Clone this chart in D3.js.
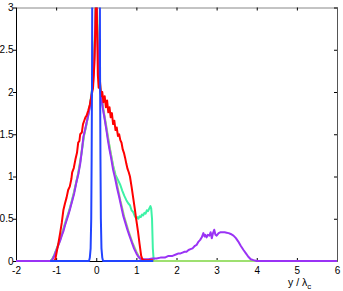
<!DOCTYPE html>
<html><head><meta charset="utf-8">
<script src="https://cdn.jsdelivr.net/npm/d3@7"></script>
<style>
body{margin:0;background:#fff}
svg{display:block}
text{font-family:"Liberation Sans",Arial,Helvetica,sans-serif;fill:#000}
</style>
</head><body><script>
// ---- data ----
const xTicks = [-2,-1,0,1,2,3,4,5,6];
const yTicks = [0,0.5,1,1.5,2,2.5,3];
const xLabel = "y / λ";
const xLabelSub = "c";

const aquaSeries = [[-1.15,0],[-1.1,0.02],[-1.05,0.07],[-1.0,0.13],[-0.95,0.19],[-0.9,0.26],[-0.85,0.33],[-0.8,0.41],[-0.75,0.49],[-0.7,0.56],[-0.65,0.64],[-0.6,0.73],[-0.55,0.82],[-0.5,0.93],[-0.45,1.03],[-0.4,1.17],[-0.35,1.33],[-0.3,1.5],[-0.25,1.6],[-0.2,1.73],[-0.15,1.86],[-0.1,2.04],[-0.06,2.3],[-0.03,2.7],[0,3.3],[0.03,2.7],[0.06,2.3],[0.1,2.05],[0.17,1.8],[0.23,1.63],[0.29,1.46],[0.35,1.3],[0.42,1.13],[0.48,1.02],[0.54,0.96],[0.6,0.9],[0.65,0.83],[0.7,0.77],[0.75,0.72],[0.8,0.68],[0.84,0.66],[0.88,0.6],[0.92,0.58],[0.96,0.53],[1.0,0.5],[1.02,0.52],[1.05,0.5],[1.08,0.53],[1.11,0.52],[1.14,0.55],[1.17,0.54],[1.2,0.57],[1.23,0.56],[1.26,0.6],[1.29,0.59],[1.32,0.62],[1.35,0.65],[1.37,0.62],[1.39,0.5],[1.41,0.15],[1.43,0.02],[1.45,0]];

const limeSeries = [[-1.15,0],[-1.1,0.02],[-1.05,0.06],[-1.0,0.12],[-0.9,0.25],[-0.8,0.4],[-0.7,0.55],[-0.6,0.72],[-0.5,0.93],[-0.45,1.04],[-0.4,1.18],[-0.32,1.45],[-0.24,1.63],[-0.16,1.84],[-0.1,2.05],[-0.05,2.4],[0,3.3],[0.05,2.45],[0.1,2.05],[0.17,1.82],[0.25,1.6],[0.33,1.36],[0.42,1.12],[0.5,0.95],[0.6,0.72],[0.7,0.52],[0.8,0.36],[0.9,0.22],[1.0,0.11],[1.08,0.04],[1.15,0.01],[1.2,0],[4,0]];

const purpleSeries = [[-2,0],[-1.12,0],[-1.08,0.03],[-1.04,0.07],[-1.0,0.12],[-0.95,0.18],[-0.9,0.24],[-0.86,0.3],[-0.82,0.35],[-0.78,0.42],[-0.74,0.48],[-0.7,0.54],[-0.65,0.62],[-0.6,0.71],[-0.55,0.8],[-0.5,0.92],[-0.45,1.02],[-0.4,1.15],[-0.36,1.3],[-0.32,1.47],[-0.28,1.55],[-0.24,1.64],[-0.2,1.72],[-0.16,1.82],[-0.12,1.96],[-0.08,2.1],[-0.05,2.35],[-0.02,2.8],[0,3.3],[0.02,2.8],[0.05,2.4],[0.08,2.1],[0.12,1.95],[0.17,1.79],[0.21,1.68],[0.25,1.56],[0.29,1.43],[0.33,1.32],[0.37,1.22],[0.42,1.08],[0.47,0.98],[0.52,0.86],[0.57,0.76],[0.62,0.65],[0.67,0.54],[0.72,0.46],[0.77,0.38],[0.82,0.31],[0.88,0.23],[0.94,0.15],[1.0,0.09],[1.05,0.05],[1.09,0.03],[1.14,0.02],[1.2,0.02],[1.3,0.02],[1.4,0.03],[1.5,0.03],[1.6,0.04],[1.71,0.04],[1.8,0.06],[1.9,0.06],[2.0,0.08],[2.05,0.09],[2.1,0.09],[2.15,0.1],[2.2,0.11],[2.25,0.11],[2.3,0.13],[2.35,0.14],[2.4,0.15],[2.46,0.18],[2.5,0.19],[2.55,0.23],[2.59,0.25],[2.63,0.28],[2.67,0.33],[2.7,0.29],[2.72,0.31],[2.75,0.28],[2.78,0.31],[2.82,0.3],[2.85,0.34],[2.88,0.27],[2.91,0.33],[2.94,0.37],[2.97,0.31],[3.0,0.3],[3.05,0.33],[3.09,0.34],[3.15,0.34],[3.2,0.34],[3.25,0.335],[3.3,0.33],[3.35,0.32],[3.42,0.3],[3.48,0.27],[3.54,0.23],[3.6,0.18],[3.67,0.13],[3.73,0.09],[3.79,0.05],[3.85,0.02],[3.92,0.01],[4.0,0],[6,0]];

const redSeries = [[-1.1,0],[-1.05,0],[-1.02,0.02],[-0.98,0.12],[-0.94,0.22],[-0.9,0.33],[-0.86,0.45],[-0.82,0.6],[-0.78,0.68],[-0.74,0.75],[-0.7,0.84],[-0.66,0.88],[-0.62,0.97],[-0.6,1.05],[-0.56,1.1],[-0.52,1.2],[-0.48,1.28],[-0.45,1.4],[-0.42,1.42],[-0.4,1.5],[-0.36,1.52],[-0.33,1.62],[-0.3,1.66],[-0.27,1.7],[-0.24,1.72],[-0.2,1.78],[-0.16,1.85],[-0.12,1.95],[-0.08,2.05],[-0.05,2.3],[-0.02,2.8],[0,3.3],[0.02,2.8],[0.04,2.2],[0.06,2.05],[0.09,2.15],[0.12,1.95],[0.15,2.0],[0.18,1.88],[0.21,1.95],[0.24,1.82],[0.27,1.9],[0.3,1.76],[0.33,1.82],[0.36,1.7],[0.39,1.75],[0.42,1.62],[0.45,1.66],[0.48,1.55],[0.51,1.58],[0.54,1.48],[0.57,1.5],[0.6,1.43],[0.63,1.4],[0.66,1.32],[0.69,1.28],[0.72,1.22],[0.75,1.15],[0.78,1.09],[0.81,1.05],[0.84,1.0],[0.88,0.88],[0.92,0.75],[0.96,0.62],[1.0,0.48],[1.04,0.35],[1.08,0.2],[1.12,0.06],[1.15,0.02],[1.2,0.01],[1.42,0.01]];

const blueSeries = [[-1.15,0],[-0.18,0],[-0.16,0.04],[-0.14,0.15],[-0.125,0.5],[-0.115,1.2],[-0.105,2.2],[-0.1,3.2],[-0.05,15],[0,26],[0.05,15],[0.09,3.2],[0.095,2.2],[0.105,1.2],[0.115,0.5],[0.13,0.15],[0.15,0.04],[0.17,0],[1.42,0]];

const seriesList = [
  {data: aquaSeries, color: "#3df2a6"},
  {data: limeSeries, color: "#9ee070"},
  {data: purpleSeries, color: "#9a33f5"},
  {data: redSeries, color: "#ff0000"},
  {data: blueSeries, color: "#2244ff"}
];

// ---- layout ----
const W = 343, H = 291;
const L = 16, R = 337, T = 7.5, B = 261;

const svg = d3.select("body").append("svg").attr("width", W).attr("height", H);
const x = d3.scaleLinear().domain([-2, 6]).range([L, R]);
const y = d3.scaleLinear().domain([0, 3]).range([B, T]);

// axes (drawn first, curves on top)
const fmt = d => String(d);
const axB = svg.append("g").attr("transform", `translate(0,${B})`)
  .call(d3.axisBottom(x).tickValues(xTicks).tickFormat(fmt).tickSizeInner(-3).tickSizeOuter(0).tickPadding(6));
const axT = svg.append("g").attr("transform", `translate(0,${T})`)
  .call(d3.axisTop(x).tickValues(xTicks).tickFormat("").tickSizeInner(-3).tickSizeOuter(0));
const axL = svg.append("g").attr("transform", `translate(${L},0)`)
  .call(d3.axisLeft(y).tickValues(yTicks).tickFormat(fmt).tickSizeInner(3).tickSizeOuter(0).tickPadding(1));
const axR = svg.append("g").attr("transform", `translate(${R},0)`)
  .call(d3.axisRight(y).tickValues(yTicks).tickFormat("").tickSizeInner(-3).tickSizeOuter(0));

[axB, axT, axL, axR].forEach(a => {
  a.selectAll("text").attr("font-size", 10).attr("font-family", '"Liberation Sans",Arial,sans-serif');
  a.select(".domain").attr("stroke", "#000");
  a.selectAll(".tick line").attr("stroke", "#000");
});
axL.selectAll("text").attr("x", -2.5);
axT.select(".domain").attr("stroke", "#888");
axR.select(".domain").attr("stroke", "#555");

svg.append("defs").append("clipPath").attr("id","clip")
  .append("rect").attr("x", L).attr("y", T).attr("width", R - L).attr("height", B - T + 1.5);

const line = d3.line().x(d => x(d[0])).y(d => y(d[1]));
const g = svg.append("g").attr("clip-path","url(#clip)");
seriesList.forEach(s => {
  g.append("path").datum(s.data).attr("d", line)
    .attr("fill","none").attr("stroke", s.color)
    .attr("stroke-width", 2).attr("stroke-linejoin","round");
});

// x label
const lab = svg.append("text").attr("x", 288).attr("y", 286).attr("font-size", 10.5);
lab.append("tspan").text(xLabel);
lab.append("tspan").attr("dy", 3).attr("font-size", 8).text(xLabelSub);
</script></body></html>
